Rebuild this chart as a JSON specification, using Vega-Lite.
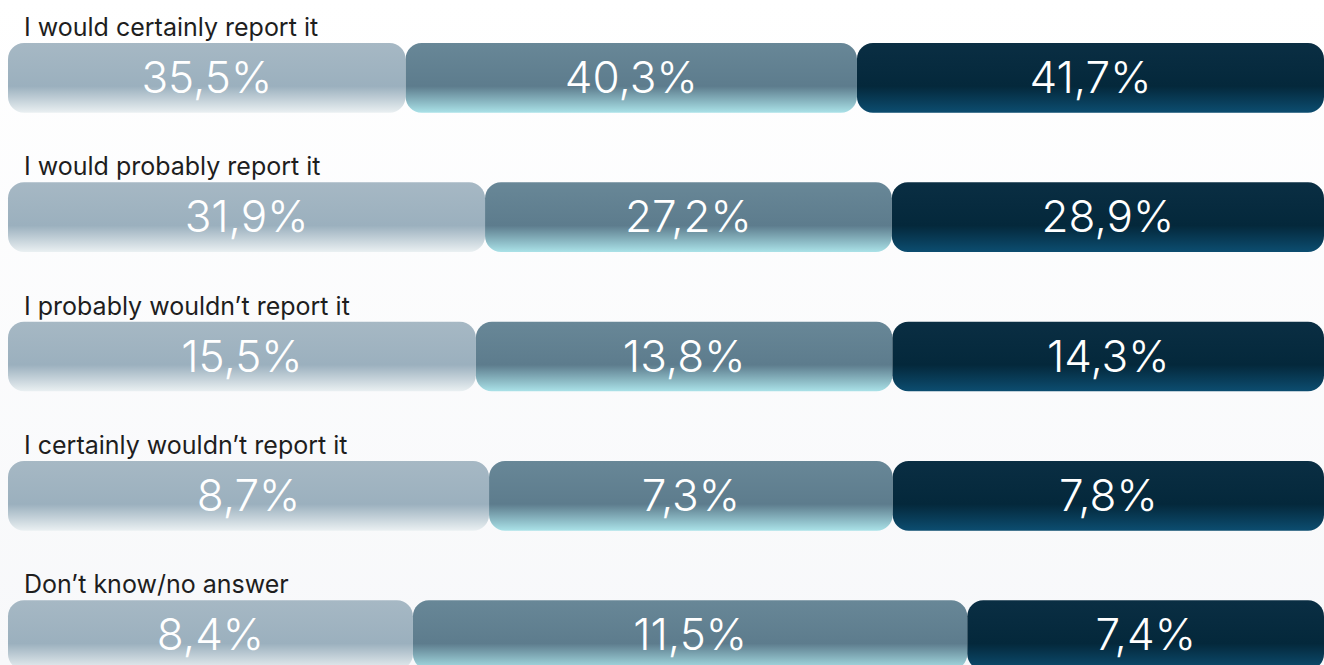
{
  "$schema": "https://vega.github.io/schema/vega-lite/v6.json",
  "width": 1324,
  "height": 665,
  "padding": 0,
  "autosize": {"type": "none"},
  "background": "#ffffff",
  "config": {
    "view": {
      "stroke": null,
      "fill": {"gradient": "linear", "x1": 0, "y1": 0, "x2": 0, "y2": 1, "stops": [{"offset": 0, "color": "#ffffff"}, {"offset": 1, "color": "#f7f8fa"}]}
    },
    "font": "Inter"
  },
  "data": {
    "values": [
      {"row": "I would certainly report it", "s": 1, "v": 35.5, "t": "35,5%"},
      {"row": "I would certainly report it", "s": 2, "v": 40.3, "t": "40,3%"},
      {"row": "I would certainly report it", "s": 3, "v": 41.7, "t": "41,7%"},
      {"row": "I would probably report it", "s": 1, "v": 31.9, "t": "31,9%"},
      {"row": "I would probably report it", "s": 2, "v": 27.2, "t": "27,2%"},
      {"row": "I would probably report it", "s": 3, "v": 28.9, "t": "28,9%"},
      {"row": "I probably wouldn’t report it", "s": 1, "v": 15.5, "t": "15,5%"},
      {"row": "I probably wouldn’t report it", "s": 2, "v": 13.8, "t": "13,8%"},
      {"row": "I probably wouldn’t report it", "s": 3, "v": 14.3, "t": "14,3%"},
      {"row": "I certainly wouldn’t report it", "s": 1, "v": 8.7, "t": "8,7%"},
      {"row": "I certainly wouldn’t report it", "s": 2, "v": 7.3, "t": "7,3%"},
      {"row": "I certainly wouldn’t report it", "s": 3, "v": 7.8, "t": "7,8%"},
      {"row": "Don’t know/no answer", "s": 1, "v": 8.4, "t": "8,4%"},
      {"row": "Don’t know/no answer", "s": 2, "v": 11.5, "t": "11,5%"},
      {"row": "Don’t know/no answer", "s": 3, "v": 7.4, "t": "7,4%"}
    ]
  },
  "transform": [
    {"stack": "v", "groupby": ["row"], "sort": [{"field": "s", "order": "ascending"}], "offset": "normalize", "as": ["x0", "x1"]},
    {"calculate": "(datum.x0 + datum.x1) / 2", "as": "xm"}
  ],
  "encoding": {
    "y": {"field": "row", "type": "nominal", "sort": null, "axis": null,
      "scale": {"type": "band", "range": [0, 713], "paddingInner": 0.5, "paddingOuter": 0.309}}
  },
  "layer": [
    {
      "mark": {"type": "bar", "cornerRadius": 16, "clip": true},
      "encoding": {
        "x": {"field": "x0", "type": "quantitative", "axis": null, "scale": {"domain": [0, 1], "range": [8, 1324], "nice": false, "zero": false}},
        "x2": {"field": "x1"},
        "fill": {
          "condition": [
            {"test": "datum.s === 1", "value": {"gradient": "linear", "x1": 0, "y1": 0, "x2": 0, "y2": 1, "stops": [{"offset": 0, "color": "#a6b8c4"}, {"offset": 0.62, "color": "#9bb0be"}, {"offset": 1, "color": "#eaf0f2"}]}},
            {"test": "datum.s === 2", "value": {"gradient": "linear", "x1": 0, "y1": 0, "x2": 0, "y2": 1, "stops": [{"offset": 0, "color": "#688797"}, {"offset": 0.62, "color": "#5d7c8d"}, {"offset": 1, "color": "#aae2e8"}]}}
          ],
          "value": {"gradient": "linear", "x1": 0, "y1": 0, "x2": 0, "y2": 1, "stops": [{"offset": 0, "color": "#0a2e43"}, {"offset": 0.62, "color": "#04283b"}, {"offset": 1, "color": "#0c4d70"}]}
        }
      }
    },
    {
      "mark": {"type": "text", "align": "center", "baseline": "alphabetic", "dy": 15, "fontSize": 44, "fontWeight": 300, "fill": "#ffffff", "clip": true},
      "encoding": {
        "x": {"field": "xm", "type": "quantitative"},
        "y": {"field": "row", "type": "nominal", "sort": null, "bandPosition": 0.5},
        "text": {"field": "t"}
      }
    },
    {
      "transform": [{"filter": "datum.s === 1"}],
      "mark": {"type": "text", "align": "left", "baseline": "alphabetic", "dx": 16, "dy": -7, "fontSize": 25, "fontWeight": 400, "fill": "#1e1e1e"},
      "encoding": {
        "x": {"datum": 0, "type": "quantitative"},
        "y": {"field": "row", "type": "nominal", "sort": null, "bandPosition": 0},
        "text": {"field": "row"}
      }
    }
  ]
}
